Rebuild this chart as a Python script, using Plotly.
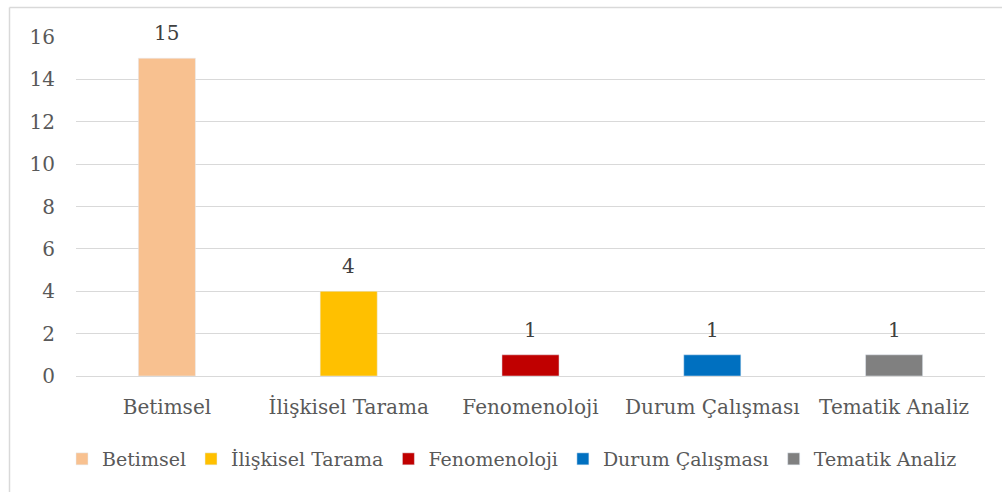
import plotly.graph_objects as go

categories = ["Betimsel", "İlişkisel Tarama", "Fenomenoloji", "Durum Çalışması", "Tematik Analiz"]
values = [15, 4, 1, 1, 1]
colors = ["#F8C190", "#FFC000", "#C00000", "#0070C0", "#808080"]
y_ticks = [0, 2, 4, 6, 8, 10, 12, 14, 16]

FONT = "DejaVu Serif"
TXT = "#595959"
FS = 20

fig = go.Figure()
for cat, val, col in zip(categories, values, colors):
    fig.add_trace(go.Bar(x=[cat], y=[val], name=cat, marker_color=col, width=0.314))

for cat, val in zip(categories, values):
    fig.add_annotation(x=cat, y=val, text=str(val), showarrow=False, yanchor="middle",
                       yshift=25, font=dict(family=FONT, size=FS, color="#404040"))

W, H = 1002, 492
L, R, T, B = 76, 17, 37, 116
pw, ph = W - L - R, H - T - B

def px(x):
    return (x - L) / pw

def py(y):
    return 1 - (y - T) / ph

fig.update_layout(
    width=W, height=H, barmode="overlay",
    margin=dict(l=L, r=R, t=T, b=B),
    paper_bgcolor="white", plot_bgcolor="white",
    font=dict(family=FONT, size=FS, color=TXT),
    showlegend=True,
    legend=dict(orientation="h", x=px(62), y=py(459), yanchor="middle", xanchor="left",
                font=dict(family=FONT, size=19, color=TXT), itemclick=False,
                tracegroupgap=0),
    xaxis=dict(showgrid=False, showline=False, zeroline=False, ticks="",
               tickfont=dict(family=FONT, size=FS, color=TXT), ticklabelstandoff=17),
    yaxis=dict(range=[0, 16], tickvals=y_ticks, showgrid=True, gridcolor="#D9D9D9",
               gridwidth=1, zeroline=True, zerolinecolor="#D9D9D9", zerolinewidth=1,
               showline=False, ticks="", tickfont=dict(family=FONT, size=FS, color=TXT),
               ticklabelstandoff=20),
    shapes=[
        dict(type="line", xref="paper", yref="paper", x0=px(9.5), x1=px(1002), y0=py(7.5), y1=py(7.5),
             line=dict(color="#D9D9D9", width=1.5)),
        dict(type="line", xref="paper", yref="paper", x0=px(9.5), x1=px(9.5), y0=py(7.5), y1=py(492),
             line=dict(color="#D9D9D9", width=1.5)),
    ],
)

fig.write_html("out.html", config={"displayModeBar": False},
               post_script="document.body.style.margin='0';")
